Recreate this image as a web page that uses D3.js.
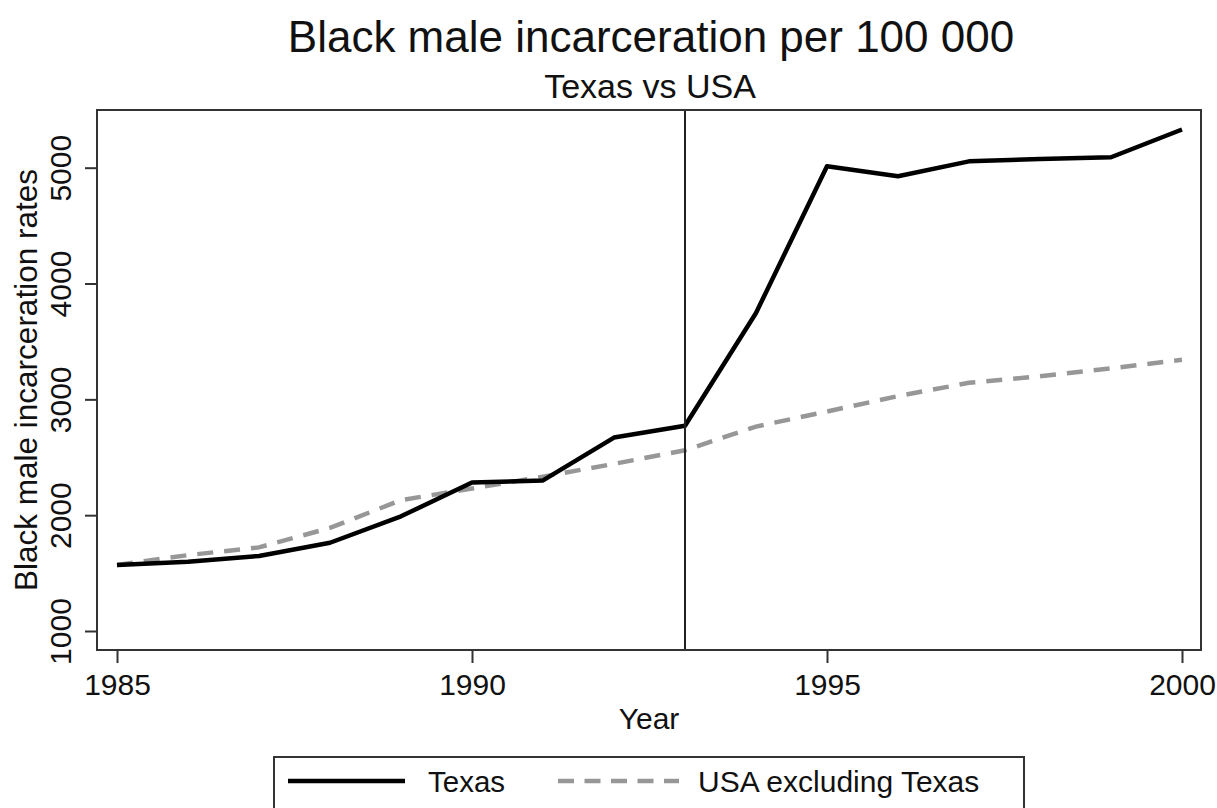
<!DOCTYPE html>
<html><head><meta charset="utf-8">
<script src="https://cdn.jsdelivr.net/npm/d3@7"></script>
<style>
body{margin:0;background:#fff;}
text{font-family:"Liberation Sans",Arial,Helvetica,sans-serif;fill:#111;}
</style></head>
<body>
<svg id="chart" width="1217" height="808"></svg>
<script>
const years = [1985,1986,1987,1988,1989,1990,1991,1992,1993,1994,1995,1996,1997,1998,1999,2000];
const texas = [1570,1598,1648,1762,1990,2282,2300,2670,2772,3746,5012,4926,5055,5075,5090,5330];
const usaExTexas = [1570,1655,1722,1890,2130,2230,2333,2443,2560,2765,2895,3028,3143,3200,3268,3342];
const xTicks = [1985,1990,1995,2000];
const yTicks = [1000,2000,3000,4000,5000];
const markerYear = 1993;
const title = "Black male incarceration per 100 000";
const subtitle = "Texas vs USA";
const xTitle = "Year";
const yTitle = "Black male incarceration rates";
const seriesNames = ["Texas","USA excluding Texas"];

const svg = d3.select("#chart");
const L = 97, R = 1201, T = 110, B = 650;
const x = d3.scaleLinear().domain([1985,2000]).range([117,1182]);
const y = d3.scaleLinear().domain([1000,5000]).range([631,167.7]);

// titles
svg.append("text").attr("x",651).attr("y",52).attr("text-anchor","middle")
  .style("font-size","44px").text(title);
svg.append("text").attr("x",650).attr("y",98).attr("text-anchor","middle")
  .style("font-size","34px").text(subtitle);

// lines
const data = years.map((yr,i)=>({yr, tx:texas[i], us:usaExTexas[i]}));
const lineTx = d3.line().x(d=>x(d.yr)).y(d=>y(d.tx));
const lineUs = d3.line().x(d=>x(d.yr)).y(d=>y(d.us));
svg.append("path").datum(data).attr("d",lineUs).attr("fill","none")
  .attr("stroke","#979797").attr("stroke-width",4.5).attr("stroke-dasharray","16,11");
svg.append("path").datum(data).attr("d",lineTx).attr("fill","none")
  .attr("stroke","#000").attr("stroke-width",4.5).attr("stroke-linejoin","round");

// vertical marker
svg.append("line").attr("x1",x(markerYear)).attr("x2",x(markerYear))
  .attr("y1",T).attr("y2",B).attr("stroke","#222").attr("stroke-width",2);

// frame
svg.append("rect").attr("x",L).attr("y",T).attr("width",R-L).attr("height",B-T)
  .attr("fill","none").attr("stroke","#333").attr("stroke-width",2);

// y axis
const yAxis = d3.axisLeft(y).tickValues(yTicks).tickSize(12).tickFormat(d3.format("d"));
const gy = svg.append("g").attr("transform",`translate(${L},0)`).call(yAxis);
gy.select(".domain").remove();
gy.selectAll(".tick line").attr("stroke","#333").attr("stroke-width",2);
gy.selectAll(".tick text").attr("x",0).attr("dy",0)
  .attr("transform","translate(-26,0) rotate(-90)")
  .attr("text-anchor","middle").style("font-size","30px").attr("fill","#111");

// x axis
const xAxis = d3.axisBottom(x).tickValues(xTicks).tickSize(13).tickFormat(d3.format("d"));
const gx = svg.append("g").attr("transform",`translate(0,${B})`).call(xAxis);
gx.select(".domain").remove();
gx.selectAll(".tick line").attr("stroke","#333").attr("stroke-width",2);
gx.selectAll(".tick text").attr("y",45).attr("dy",0).style("font-size","30px").attr("fill","#111");

// axis titles
svg.append("text").attr("x",649).attr("y",729).attr("text-anchor","middle")
  .style("font-size","30px").text(xTitle);
svg.append("text").attr("transform",`translate(37,${(T+B)/2}) rotate(-90)`)
  .attr("text-anchor","middle").style("font-size","31.5px").text(yTitle);

// legend
svg.append("rect").attr("x",274).attr("y",757).attr("width",750).attr("height",70)
  .attr("fill","none").attr("stroke","#333").attr("stroke-width",2);
svg.append("line").attr("x1",288).attr("x2",405).attr("y1",781).attr("y2",781)
  .attr("stroke","#000").attr("stroke-width",4.5);
svg.append("text").attr("x",428).attr("y",792).style("font-size","29.5px").text(seriesNames[0]);
svg.append("line").attr("x1",558).attr("x2",679).attr("y1",781).attr("y2",781)
  .attr("stroke","#979797").attr("stroke-width",4.5).attr("stroke-dasharray","16,10.5");
svg.append("text").attr("x",698).attr("y",792).style("font-size","30px").text(seriesNames[1]);
</script>
</body></html>
